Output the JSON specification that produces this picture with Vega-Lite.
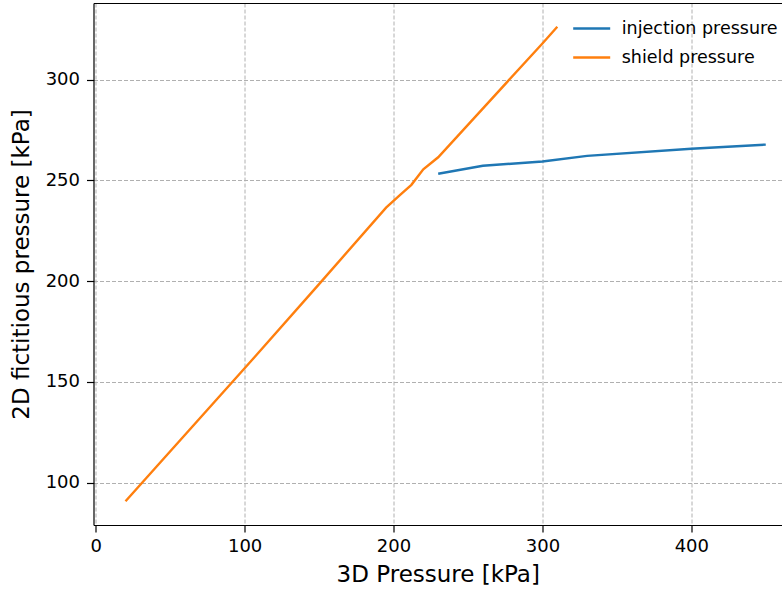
{
  "$schema": "https://vega.github.io/schema/vega-lite/v6.json",
  "width": 688.5,
  "height": 522,
  "autosize": {"type": "none"},
  "padding": {"left": 93.5, "top": 3, "right": 0, "bottom": 66},
  "background": "white",
  "config": {
    "view": {"stroke": null},
    "font": "DejaVu Sans",
    "axis": {
      "labelFont": "DejaVu Sans",
      "titleFont": "DejaVu Sans",
      "labelFontSize": 18,
      "titleFontSize": 23,
      "labelColor": "#000000",
      "titleColor": "#000000",
      "titleFontWeight": "normal",
      "domainColor": "#000000",
      "domainWidth": 1.2,
      "tickColor": "#000000",
      "tickWidth": 1.2,
      "tickSize": 7,
      "gridColor": "#b0b0b0",
      "gridWidth": 1,
      "gridDash": [4, 2],
      "gridOpacity": 1
    },
    "legend": {
      "labelFont": "DejaVu Sans",
      "labelFontSize": 17.5,
      "labelColor": "#000000"
    }
  },
  "data": {
    "values": [
      {"p3d": 230, "p2d": 253.3, "series": "injection pressure"},
      {"p3d": 260, "p2d": 257.3, "series": "injection pressure"},
      {"p3d": 300, "p2d": 259.4, "series": "injection pressure"},
      {"p3d": 330, "p2d": 262.2, "series": "injection pressure"},
      {"p3d": 400, "p2d": 265.7, "series": "injection pressure"},
      {"p3d": 450, "p2d": 267.8, "series": "injection pressure"},
      {"p3d": 20, "p2d": 90.7, "series": "shield pressure"},
      {"p3d": 100, "p2d": 156.7, "series": "shield pressure"},
      {"p3d": 150, "p2d": 198.5, "series": "shield pressure"},
      {"p3d": 195, "p2d": 236.5, "series": "shield pressure"},
      {"p3d": 205, "p2d": 243.2, "series": "shield pressure"},
      {"p3d": 212, "p2d": 247.8, "series": "shield pressure"},
      {"p3d": 220, "p2d": 255.5, "series": "shield pressure"},
      {"p3d": 230, "p2d": 261.5, "series": "shield pressure"},
      {"p3d": 300, "p2d": 318.0, "series": "shield pressure"},
      {"p3d": 310, "p2d": 326.3, "series": "shield pressure"}
    ]
  },
  "resolve": {"axis": {"x": "independent"}},
  "layer": [
    {
      "transform": [{"filter": "datum.series === 'injection pressure'"}],
      "mark": {"type": "line", "strokeWidth": 2.4, "clip": true},
      "encoding": {
        "x": {
          "field": "p3d", "type": "quantitative",
          "scale": {"domain": [-1.5, 460.9], "nice": false, "zero": false},
          "axis": {"title": "3D Pressure [kPa]", "values": [0, 100, 200, 300, 400], "labelPadding": 5, "titlePadding": 8, "grid": true}
        },
        "y": {
          "field": "p2d", "type": "quantitative",
          "scale": {"domain": [78.9, 338.1], "nice": false, "zero": false},
          "axis": {"title": "2D fictitious pressure [kPa]", "values": [100, 150, 200, 250, 300], "labelPadding": 7, "titlePadding": 12, "grid": true}
        },
        "color": {
          "field": "series", "type": "nominal",
          "scale": {"domain": ["injection pressure", "shield pressure"], "range": ["#1f77b4", "#ff7f0e"]},
          "legend": {
            "title": null,
            "orient": "none",
            "legendX": 478.2,
            "legendY": 5.5,
            "padding": 0,
            "symbolType": "stroke",
            "symbolSize": 1369,
            "symbolStrokeWidth": 2.4,
            "labelOffset": 10,
            "rowPadding": -10
          }
        }
      }
    },
    {
      "transform": [{"filter": "datum.series === 'shield pressure'"}],
      "mark": {"type": "line", "strokeWidth": 2.4, "clip": true},
      "encoding": {
        "x": {
          "field": "p3d", "type": "quantitative",
          "axis": {"orient": "top", "title": null, "labels": false, "ticks": false, "grid": false, "domain": true}
        },
        "y": {"field": "p2d", "type": "quantitative"},
        "color": {"field": "series", "type": "nominal"}
      }
    }
  ]
}
